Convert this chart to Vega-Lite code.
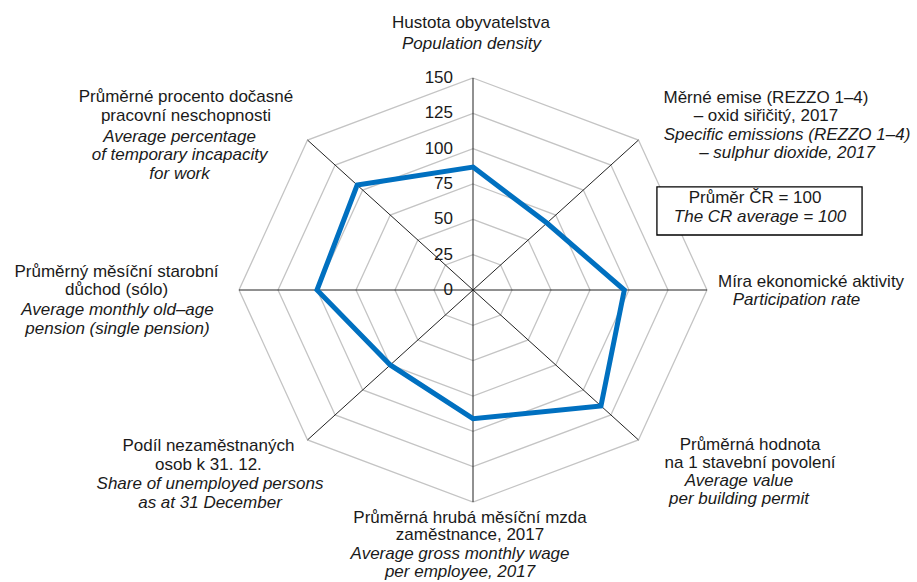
{
  "$schema": "https://vega.github.io/schema/vega-lite/v6.json",
  "width": 468,
  "height": 424,
  "autosize": {"type": "none"},
  "padding": {"left": 239, "top": 78, "right": 210, "bottom": 80},
  "background": "white",
  "config": {
    "view": {"stroke": null},
    "text": {"font": "Liberation Sans", "fontSize": 17, "color": "#1a1a1a"}
  },
  "datasets": {
    "regions": [
      {"i": 0, "name": "Hustota obyvatelstva", "value": 87},
      {"i": 1, "name": "Měrné emise – oxid siřičitý", "value": 67},
      {"i": 2, "name": "Míra ekonomické aktivity", "value": 97},
      {"i": 3, "name": "Průměrná hodnota na 1 stavební povolení", "value": 116},
      {"i": 4, "name": "Průměrná hrubá měsíční mzda", "value": 91},
      {"i": 5, "name": "Podíl nezaměstnaných osob", "value": 75},
      {"i": 6, "name": "Průměrný měsíční starobní důchod", "value": 100},
      {"i": 7, "name": "Průměrné procento dočasné pracovní neschopnosti", "value": 105}
    ],
    "levels": [
      {"level": 0, "i": [0, 1, 2, 3, 4, 5, 6, 7]},
      {"level": 25, "i": [0, 1, 2, 3, 4, 5, 6, 7]},
      {"level": 50, "i": [0, 1, 2, 3, 4, 5, 6, 7]},
      {"level": 75, "i": [0, 1, 2, 3, 4, 5, 6, 7]},
      {"level": 100, "i": [0, 1, 2, 3, 4, 5, 6, 7]},
      {"level": 125, "i": [0, 1, 2, 3, 4, 5, 6, 7]},
      {"level": 150, "i": [0, 1, 2, 3, 4, 5, 6, 7]}
    ],
    "labels": [
      {"key": "top", "cz": "Hustota obyvatelstva", "en": "Population density"},
      {"key": "ur", "cz": "Měrné emise  (REZZO 1–4)\n– oxid siřičitý, 2017", "en": "Specific emissions (REZZO 1–4)\n– sulphur dioxide, 2017"},
      {"key": "right", "cz": "Míra ekonomické aktivity", "en": "Participation rate"},
      {"key": "box", "cz": "Průměr ČR = 100", "en": "The CR average = 100"},
      {"key": "lr", "cz": "Průměrná hodnota\nna 1 stavební povolení", "en": "Average value\nper building permit"},
      {"key": "bottom", "cz": "Průměrná hrubá měsíční mzda\nzaměstnance, 2017", "en": "Average gross monthly wage\nper employee, 2017"},
      {"key": "ll", "cz": "Podíl nezaměstnaných\nosob k 31. 12.", "en": "Share of unemployed persons\nas at 31 December"},
      {"key": "left", "cz": "Průměrný měsíční starobní\ndůchod (sólo)", "en": "Average monthly old–age\npension (single pension)"},
      {"key": "ul", "cz": "Průměrné procento dočasné\npracovní neschopnosti", "en": "Average percentage\nof temporary incapacity\nfor work"}
    ]
  },
  "layer": [
    {
      "data": {"name": "levels"},
      "transform": [
        {"filter": "datum.level > 0"},
        {"flatten": ["i"]},
        {"calculate": "datum.level * sin(datum.i * PI / 4)", "as": "gx"},
        {"calculate": "datum.level * cos(datum.i * PI / 4)", "as": "gy"}
      ],
      "mark": {"type": "line", "interpolate": "linear-closed", "color": "#c4c4c4", "strokeWidth": 1.3},
      "encoding": {
        "x": {"field": "gx", "type": "quantitative", "scale": {"domain": [-150, 150], "nice": false}, "axis": null},
        "y": {"field": "gy", "type": "quantitative", "scale": {"domain": [-150, 150], "nice": false}, "axis": null},
        "detail": {"field": "level", "type": "nominal"},
        "order": {"field": "i", "type": "quantitative"}
      }
    },
    {
      "data": {"name": "regions"},
      "transform": [
        {"calculate": "0", "as": "o"},
        {"calculate": "150 * sin(datum.i * PI / 4)", "as": "ex"},
        {"calculate": "150 * cos(datum.i * PI / 4)", "as": "ey"}
      ],
      "mark": {"type": "rule", "color": "#222222", "strokeWidth": 1},
      "encoding": {
        "x": {"field": "o", "type": "quantitative", "scale": {"domain": [-150, 150], "nice": false}, "axis": null},
        "y": {"field": "o", "type": "quantitative", "scale": {"domain": [-150, 150], "nice": false}, "axis": null},
        "x2": {"field": "ex"},
        "y2": {"field": "ey"}
      }
    },
    {
      "data": {"name": "regions"},
      "transform": [
        {"calculate": "datum.value * sin(datum.i * PI / 4)", "as": "px"},
        {"calculate": "datum.value * cos(datum.i * PI / 4)", "as": "py"}
      ],
      "mark": {"type": "line", "interpolate": "linear-closed", "color": "#0070c0", "strokeWidth": 5, "strokeJoin": "miter"},
      "encoding": {
        "x": {"field": "px", "type": "quantitative", "scale": {"domain": [-150, 150], "nice": false}, "axis": null},
        "y": {"field": "py", "type": "quantitative", "scale": {"domain": [-150, 150], "nice": false}, "axis": null},
        "order": {"field": "i", "type": "quantitative"}
      }
    },
    {
      "data": {"name": "levels"},
      "transform": [{"calculate": "0", "as": "o"}],
      "mark": {"type": "text", "align": "right", "baseline": "middle", "dx": -20},
      "encoding": {
        "x": {"field": "o", "type": "quantitative", "scale": {"domain": [-150, 150], "nice": false}, "axis": null},
        "y": {"field": "level", "type": "quantitative", "scale": {"domain": [-150, 150], "nice": false}, "axis": null},
        "text": {"field": "level", "type": "quantitative"}
      }
    },
    {
      "data": {"name": "labels"},
      "transform": [{"filter": "datum.key === 'box'"}],
      "mark": {"type": "rect", "fill": "white", "stroke": "#000000", "strokeWidth": 1.3},
      "encoding": {
        "x": {"datum": 117.9, "type": "quantitative", "scale": {"domain": [-150, 150], "nice": false}, "axis": null},
        "x2": {"datum": 249.4, "type": "quantitative"},
        "y": {"datum": 72.9, "type": "quantitative", "scale": {"domain": [-150, 150], "nice": false}, "axis": null},
        "y2": {"datum": 38.9, "type": "quantitative"}
      }
    },
    {"data": {"name": "labels"}, "transform": [{"filter": "datum.key === 'top'"}],
      "mark": {"type": "text", "lineBreak": "\n", "lineHeight": 18.5, "baseline": "middle"},
      "encoding": {"x": {"datum": -1.3, "type": "quantitative", "scale": {"domain": [-150, 150], "nice": false}, "axis": null}, "y": {"datum": 188.9, "type": "quantitative", "scale": {"domain": [-150, 150], "nice": false}, "axis": null}, "text": {"field": "cz", "type": "nominal"}}},
    {"data": {"name": "labels"}, "transform": [{"filter": "datum.key === 'top'"}],
      "mark": {"type": "text", "lineBreak": "\n", "lineHeight": 18.5, "baseline": "middle", "fontStyle": "italic"},
      "encoding": {"x": {"datum": -1, "type": "quantitative", "scale": {"domain": [-150, 150], "nice": false}, "axis": null}, "y": {"datum": 174.1, "type": "quantitative", "scale": {"domain": [-150, 150], "nice": false}, "axis": null}, "text": {"field": "en", "type": "nominal"}}},
    {"data": {"name": "labels"}, "transform": [{"filter": "datum.key === 'ur'"}],
      "mark": {"type": "text", "lineBreak": "\n", "lineHeight": 18.5, "baseline": "middle"},
      "encoding": {"x": {"datum": 187.8, "type": "quantitative", "scale": {"domain": [-150, 150], "nice": false}, "axis": null}, "y": {"datum": 136.1, "type": "quantitative", "scale": {"domain": [-150, 150], "nice": false}, "axis": null}, "text": {"field": "cz", "type": "nominal"}}},
    {"data": {"name": "labels"}, "transform": [{"filter": "datum.key === 'ur'"}],
      "mark": {"type": "text", "lineBreak": "\n", "lineHeight": 18.5, "baseline": "middle", "fontStyle": "italic"},
      "encoding": {"x": {"datum": 201.3, "type": "quantitative", "scale": {"domain": [-150, 150], "nice": false}, "axis": null}, "y": {"datum": 109.7, "type": "quantitative", "scale": {"domain": [-150, 150], "nice": false}, "axis": null}, "text": {"field": "en", "type": "nominal"}}},
    {"data": {"name": "labels"}, "transform": [{"filter": "datum.key === 'right'"}],
      "mark": {"type": "text", "lineBreak": "\n", "lineHeight": 18.5, "baseline": "middle"},
      "encoding": {"x": {"datum": 216.7, "type": "quantitative", "scale": {"domain": [-150, 150], "nice": false}, "axis": null}, "y": {"datum": 5.9, "type": "quantitative", "scale": {"domain": [-150, 150], "nice": false}, "axis": null}, "text": {"field": "cz", "type": "nominal"}}},
    {"data": {"name": "labels"}, "transform": [{"filter": "datum.key === 'right'"}],
      "mark": {"type": "text", "lineBreak": "\n", "lineHeight": 18.5, "baseline": "middle", "fontStyle": "italic"},
      "encoding": {"x": {"datum": 207.4, "type": "quantitative", "scale": {"domain": [-150, 150], "nice": false}, "axis": null}, "y": {"datum": -7.1, "type": "quantitative", "scale": {"domain": [-150, 150], "nice": false}, "axis": null}, "text": {"field": "en", "type": "nominal"}}},
    {"data": {"name": "labels"}, "transform": [{"filter": "datum.key === 'box'"}],
      "mark": {"type": "text", "lineBreak": "\n", "lineHeight": 18.5, "baseline": "middle"},
      "encoding": {"x": {"datum": 180.8, "type": "quantitative", "scale": {"domain": [-150, 150], "nice": false}, "axis": null}, "y": {"datum": 64.9, "type": "quantitative", "scale": {"domain": [-150, 150], "nice": false}, "axis": null}, "text": {"field": "cz", "type": "nominal"}}},
    {"data": {"name": "labels"}, "transform": [{"filter": "datum.key === 'box'"}],
      "mark": {"type": "text", "lineBreak": "\n", "lineHeight": 18.5, "baseline": "middle", "fontStyle": "italic"},
      "encoding": {"x": {"datum": 184, "type": "quantitative", "scale": {"domain": [-150, 150], "nice": false}, "axis": null}, "y": {"datum": 51.9, "type": "quantitative", "scale": {"domain": [-150, 150], "nice": false}, "axis": null}, "text": {"field": "en", "type": "nominal"}}},
    {"data": {"name": "labels"}, "transform": [{"filter": "datum.key === 'lr'"}],
      "mark": {"type": "text", "lineBreak": "\n", "lineHeight": 18.5, "baseline": "middle"},
      "encoding": {"x": {"datum": 177.6, "type": "quantitative", "scale": {"domain": [-150, 150], "nice": false}, "axis": null}, "y": {"datum": -109.6, "type": "quantitative", "scale": {"domain": [-150, 150], "nice": false}, "axis": null}, "text": {"field": "cz", "type": "nominal"}}},
    {"data": {"name": "labels"}, "transform": [{"filter": "datum.key === 'lr'"}],
      "mark": {"type": "text", "lineBreak": "\n", "lineHeight": 18.5, "baseline": "middle", "fontStyle": "italic"},
      "encoding": {"x": {"datum": 170.5, "type": "quantitative", "scale": {"domain": [-150, 150], "nice": false}, "axis": null}, "y": {"datum": -135.1, "type": "quantitative", "scale": {"domain": [-150, 150], "nice": false}, "axis": null}, "text": {"field": "en", "type": "nominal"}}},
    {"data": {"name": "labels"}, "transform": [{"filter": "datum.key === 'bottom'"}],
      "mark": {"type": "text", "lineBreak": "\n", "lineHeight": 17.5, "baseline": "middle"},
      "encoding": {"x": {"datum": -1.9, "type": "quantitative", "scale": {"domain": [-150, 150], "nice": false}, "axis": null}, "y": {"datum": -161.3, "type": "quantitative", "scale": {"domain": [-150, 150], "nice": false}, "axis": null}, "text": {"field": "cz", "type": "nominal"}}},
    {"data": {"name": "labels"}, "transform": [{"filter": "datum.key === 'bottom'"}],
      "mark": {"type": "text", "lineBreak": "\n", "lineHeight": 17.5, "baseline": "middle", "fontStyle": "italic"},
      "encoding": {"x": {"datum": -8.3, "type": "quantitative", "scale": {"domain": [-150, 150], "nice": false}, "axis": null}, "y": {"datum": -186.9, "type": "quantitative", "scale": {"domain": [-150, 150], "nice": false}, "axis": null}, "text": {"field": "en", "type": "nominal"}}},
    {"data": {"name": "labels"}, "transform": [{"filter": "datum.key === 'll'"}],
      "mark": {"type": "text", "lineBreak": "\n", "lineHeight": 18.5, "baseline": "middle"},
      "encoding": {"x": {"datum": -169.6, "type": "quantitative", "scale": {"domain": [-150, 150], "nice": false}, "axis": null}, "y": {"datum": -110.4, "type": "quantitative", "scale": {"domain": [-150, 150], "nice": false}, "axis": null}, "text": {"field": "cz", "type": "nominal"}}},
    {"data": {"name": "labels"}, "transform": [{"filter": "datum.key === 'll'"}],
      "mark": {"type": "text", "lineBreak": "\n", "lineHeight": 18.5, "baseline": "middle", "fontStyle": "italic"},
      "encoding": {"x": {"datum": -168.6, "type": "quantitative", "scale": {"domain": [-150, 150], "nice": false}, "axis": null}, "y": {"datum": -137.5, "type": "quantitative", "scale": {"domain": [-150, 150], "nice": false}, "axis": null}, "text": {"field": "en", "type": "nominal"}}},
    {"data": {"name": "labels"}, "transform": [{"filter": "datum.key === 'left'"}],
      "mark": {"type": "text", "lineBreak": "\n", "lineHeight": 18.5, "baseline": "middle"},
      "encoding": {"x": {"datum": -228.5, "type": "quantitative", "scale": {"domain": [-150, 150], "nice": false}, "axis": null}, "y": {"datum": 12.9, "type": "quantitative", "scale": {"domain": [-150, 150], "nice": false}, "axis": null}, "text": {"field": "cz", "type": "nominal"}}},
    {"data": {"name": "labels"}, "transform": [{"filter": "datum.key === 'left'"}],
      "mark": {"type": "text", "lineBreak": "\n", "lineHeight": 18.5, "baseline": "middle", "fontStyle": "italic"},
      "encoding": {"x": {"datum": -227.9, "type": "quantitative", "scale": {"domain": [-150, 150], "nice": false}, "axis": null}, "y": {"datum": -14.2, "type": "quantitative", "scale": {"domain": [-150, 150], "nice": false}, "axis": null}, "text": {"field": "en", "type": "nominal"}}},
    {"data": {"name": "labels"}, "transform": [{"filter": "datum.key === 'ul'"}],
      "mark": {"type": "text", "lineBreak": "\n", "lineHeight": 18.5, "baseline": "middle"},
      "encoding": {"x": {"datum": -184.0, "type": "quantitative", "scale": {"domain": [-150, 150], "nice": false}, "axis": null}, "y": {"datum": 136.3, "type": "quantitative", "scale": {"domain": [-150, 150], "nice": false}, "axis": null}, "text": {"field": "cz", "type": "nominal"}}},
    {"data": {"name": "labels"}, "transform": [{"filter": "datum.key === 'ul'"}],
      "mark": {"type": "text", "lineBreak": "\n", "lineHeight": 18.5, "baseline": "middle", "fontStyle": "italic"},
      "encoding": {"x": {"datum": -188.1, "type": "quantitative", "scale": {"domain": [-150, 150], "nice": false}, "axis": null}, "y": {"datum": 108.5, "type": "quantitative", "scale": {"domain": [-150, 150], "nice": false}, "axis": null}, "text": {"field": "en", "type": "nominal"}}}
  ]
}
